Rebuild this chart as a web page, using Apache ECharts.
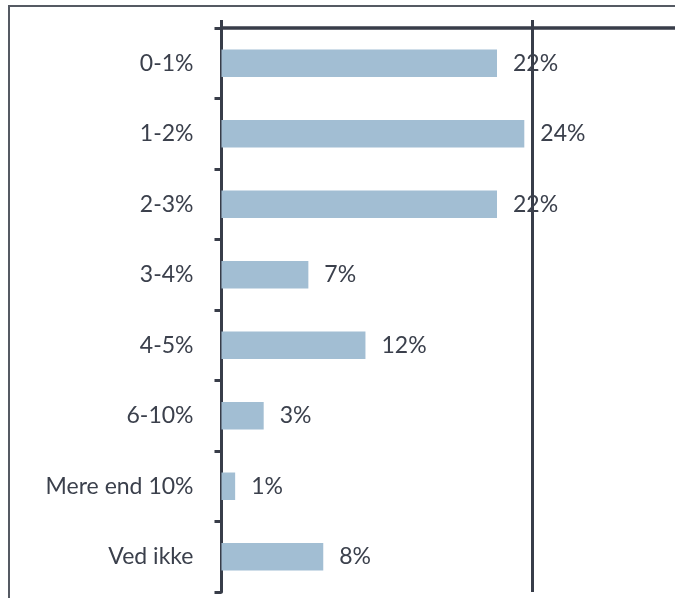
<!DOCTYPE html>
<html>
<head>
<meta charset="utf-8">
<script src="https://cdn.jsdelivr.net/npm/echarts@6/dist/echarts.min.js"></script>
<style>
  html, body { margin: 0; padding: 0; background: #fff; overflow: hidden; }
  /* the plot runs on past the right edge of the window; the overflow is cut off */
  #chart { width: 842px; height: 598px; }
</style>
</head>
<body>
<div id="chart"></div>
<script>
// Forventet inflation – svarfordeling
const categories = ['0-1%', '1-2%', '2-3%', '3-4%', '4-5%', '6-10%', 'Mere end 10%', 'Ved ikke'];
const shares = [22.2, 24.4, 22.2, 7.0, 11.6, 3.4, 1.1, 8.2];
const axisTicks = [0, 25, 50];

const ink = '#383d49';
const barColor = '#a2bed3';
const textColor = '#3b404c';
const font = 'Lato, "Open Sans", sans-serif';

const chart = echarts.init(document.getElementById('chart'));
chart.setOption({
  animation: false,
  backgroundColor: '#fff',
  graphic: [{
    type: 'rect',
    shape: { x: 9, y: 6, width: 900, height: 700 },
    style: { fill: 'none', stroke: '#555a63', lineWidth: 2 },
    z: 0
  }],
  grid: { left: 221.5, top: 28, right: 0, bottom: 6, containLabel: false },
  xAxis: {
    type: 'value',
    position: 'top',
    min: axisTicks[0],
    max: axisTicks[axisTicks.length - 1],
    interval: axisTicks[1] - axisTicks[0],
    axisLine: { show: true, lineStyle: { color: ink, width: 3.5 } },
    axisTick: { show: true, inside: false, length: 8, lineStyle: { color: ink, width: 3 } },
    axisLabel: { show: false },
    splitLine: { show: true, lineStyle: { color: ink, width: 3 } }
  },
  yAxis: {
    type: 'category',
    inverse: true,
    data: categories,
    axisLine: { show: true, lineStyle: { color: ink, width: 3 } },
    axisTick: { show: true, inside: false, length: 7, lineStyle: { color: ink, width: 3 } },
    axisLabel: { margin: 28, color: textColor, fontSize: 23, fontFamily: font },
    splitLine: { show: false }
  },
  series: [{
    type: 'bar',
    data: shares,
    barWidth: 27.5,
    itemStyle: { color: barColor },
    label: {
      show: true,
      position: 'right',
      distance: 16,
      color: textColor,
      fontSize: 23,
      fontFamily: font,
      formatter: p => Math.round(p.value) + '%'
    },
    z: 3
  }]
});
</script>
</body>
</html>
